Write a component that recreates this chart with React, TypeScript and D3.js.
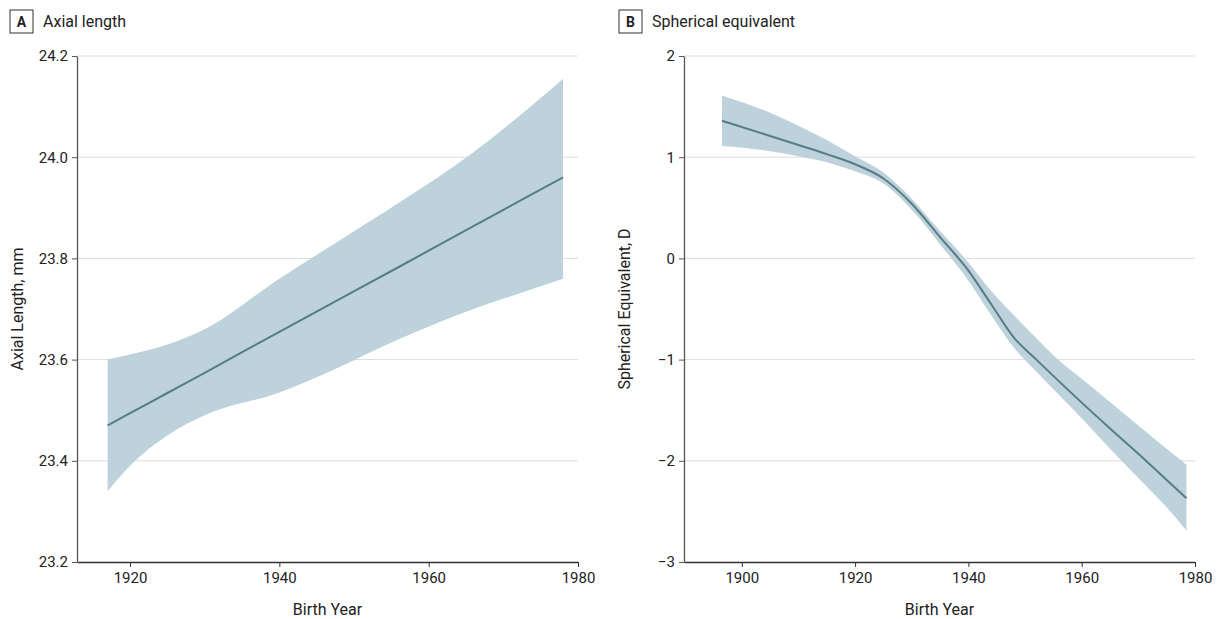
import React, { useEffect, useRef } from 'react';
import * as d3 from 'd3';

// Panel A: axial length by birth year
const axialYears = [1917, 1920, 1925, 1930, 1940, 1948, 1956, 1966, 1972, 1978];
const axialMean = [23.47, 23.494, 23.534, 23.574, 23.655, 23.719, 23.783, 23.864, 23.912, 23.96];
const axialLower = [23.34, 23.39, 23.45, 23.49, 23.535, 23.585, 23.64, 23.7, 23.73, 23.76];
const axialUpper = [23.6, 23.61, 23.63, 23.66, 23.76, 23.835, 23.91, 24.01, 24.08, 24.155];
const axialTicks = [23.2, 23.4, 23.6, 23.8, 24.0, 24.2];
const axialYearTicks = [1920, 1940, 1960, 1980];

// Panel B: spherical equivalent by birth year
const seYears = [1896.5, 1905, 1910, 1915, 1920, 1925, 1930, 1935, 1940, 1944, 1948, 1952, 1956, 1960, 1965, 1970, 1975, 1978.5];
const seMean = [1.36, 1.21, 1.12, 1.03, 0.93, 0.79, 0.54, 0.21, -0.12, -0.45, -0.78, -1.0, -1.215, -1.425, -1.68, -1.93, -2.19, -2.37];
const seLower = [1.11, 1.06, 1.01, 0.95, 0.86, 0.74, 0.48, 0.14, -0.22, -0.56, -0.88, -1.12, -1.35, -1.58, -1.88, -2.17, -2.46, -2.69];
const seUpper = [1.61, 1.44, 1.31, 1.17, 1.01, 0.85, 0.59, 0.27, -0.04, -0.32, -0.56, -0.79, -1.01, -1.19, -1.42, -1.65, -1.88, -2.04];
const seTicks = [-3, -2, -1, 0, 1, 2];
const seYearTicks = [1900, 1920, 1940, 1960, 1980];

const FONT = "'Liberation Sans Narrow', 'Roboto', sans-serif";
const BAND = '#bdd2db';
const LINE = '#577c86';

type PanelProps = {
  letter: string;
  title: string;
  yLabel: string;
  years: number[];
  mean: number[];
  lower: number[];
  upper: number[];
  yTicks: number[];
  xTicks: number[];
  xDomain: [number, number];
  left: number;
  right: number;
  boxX: number;
  fmt: (v: number) => string;
};

const top = 56;
const bottom = 562;

function Panel(p: PanelProps) {
  const xAxisRef = useRef<SVGGElement>(null);
  const yAxisRef = useRef<SVGGElement>(null);

  const x = d3.scaleLinear().domain(p.xDomain).range([p.left, p.right]);
  const y = d3.scaleLinear().domain([p.yTicks[0], p.yTicks[p.yTicks.length - 1]]).range([bottom, top]);

  const idx = p.years.map((_, i) => i);
  const area = d3.area<number>()
    .x(i => x(p.years[i]))
    .y0(i => y(p.lower[i]))
    .y1(i => y(p.upper[i]))
    .curve(d3.curveMonotoneX);
  const line = d3.line<number>()
    .x(i => x(p.years[i]))
    .y(i => y(p.mean[i]))
    .curve(d3.curveMonotoneX);

  useEffect(() => {
    const gx = d3.select(xAxisRef.current!);
    gx.call(d3.axisBottom(x).tickValues(p.xTicks).tickSizeOuter(0).tickSizeInner(5).tickPadding(5).tickFormat(d3.format('d')) as any);
    gx.select('.domain').attr('stroke', '#333').attr('stroke-width', 1.3);
    gx.selectAll('.tick line').attr('stroke', '#333');
    gx.selectAll('.tick text').attr('fill', '#222').style('font-family', FONT).style('font-size', '15px');

    const gy = d3.select(yAxisRef.current!);
    gy.call(d3.axisLeft(y).tickValues(p.yTicks).tickSizeOuter(0).tickSizeInner(5).tickPadding(4).tickFormat(v => p.fmt(v as number)) as any);
    gy.select('.domain').attr('stroke', '#555').attr('stroke-width', 1.3);
    gy.selectAll('.tick line').attr('stroke', '#555');
    gy.selectAll('.tick text').attr('fill', '#222').style('font-family', FONT).style('font-size', '15px');
  });

  const midY = (top + bottom) / 2;
  return (
    <g>
      <rect x={p.boxX} y={10} width={23} height={23} fill="none" stroke="#333" strokeWidth={1} />
      <text x={p.boxX + 11.5} y={27} textAnchor="middle" fontFamily={FONT} fontSize={14} fontWeight="bold" fill="#222">{p.letter}</text>
      <text x={p.boxX + 33} y={27} fontFamily={FONT} fontSize={16} fill="#222">{p.title}</text>
      {p.yTicks.slice(1).map(t => (
        <line key={t} x1={p.left} x2={p.right} y1={y(t)} y2={y(t)} stroke="#dcdcdc" strokeWidth={1} />
      ))}
      <path d={area(idx) || ''} fill={BAND} />
      <path d={line(idx) || ''} fill="none" stroke={LINE} strokeWidth={2} />
      <g ref={xAxisRef} transform={`translate(0,${bottom})`} />
      <g ref={yAxisRef} transform={`translate(${p.left},0)`} />
      <text x={(p.left + p.right) / 2} y={615} textAnchor="middle" fontFamily={FONT} fontSize={16} fill="#222">Birth Year</text>
      <text transform={`translate(${p.left - 54},${midY}) rotate(-90)`} textAnchor="middle" fontFamily={FONT} fontSize={16} fill="#222">{p.yLabel}</text>
    </g>
  );
}

export default function App() {
  const minus = (v: number) => (v < 0 ? '\u2212' + Math.abs(v) : String(v));
  return (
    <svg width={1220} height={619} style={{ position: 'absolute', left: 0, top: 0, background: '#fff' }}>
      <Panel
        letter="A"
        title="Axial length"
        yLabel="Axial Length, mm"
        years={axialYears}
        mean={axialMean}
        lower={axialLower}
        upper={axialUpper}
        yTicks={axialTicks}
        xTicks={axialYearTicks}
        xDomain={[1912.9, 1980]}
        left={77}
        right={578}
        boxX={10}
        fmt={d3.format('.1f')}
      />
      <Panel
        letter="B"
        title="Spherical equivalent"
        yLabel="Spherical Equivalent, D"
        years={seYears}
        mean={seMean}
        lower={seLower}
        upper={seUpper}
        yTicks={seTicks}
        xTicks={seYearTicks}
        xDomain={[1889.8, 1980]}
        left={684}
        right={1195}
        boxX={619}
        fmt={minus}
      />
    </svg>
  );
}
